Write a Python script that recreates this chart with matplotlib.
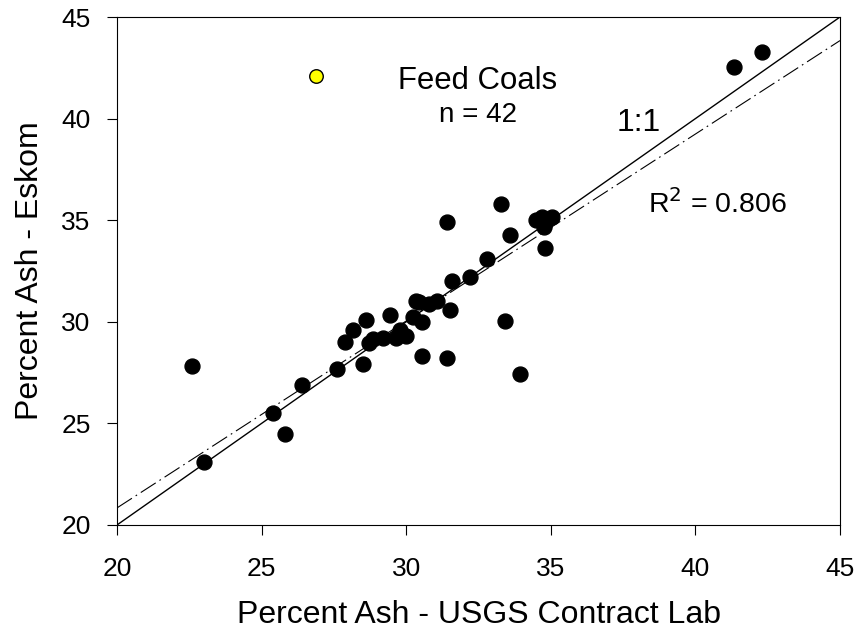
import numpy as np
import matplotlib.pyplot as plt

plt.rcParams['font.family'] = ['Liberation Sans', 'DejaVu Sans']

# usgs contract lab vs eskom percent ash
usgs = [22.6, 23.0, 25.4, 25.8, 26.4, 27.6, 27.9, 28.15, 28.5, 28.6,
        28.7, 28.85, 29.2, 29.45, 29.65, 29.8, 30.0, 30.25, 30.35, 30.45,
        30.55, 30.8, 31.05, 31.5, 30.55, 31.4, 31.6, 32.2, 32.8, 33.6,
        31.4, 33.27, 33.4, 33.95, 34.8, 34.5, 34.7, 34.8, 35.05, 34.75,
        41.35, 42.3]
eskom = [27.8, 23.1, 25.5, 24.5, 26.9, 27.7, 29.0, 29.6, 27.9, 30.1,
         28.95, 29.15, 29.2, 30.35, 29.2, 29.6, 29.3, 30.25, 31.0, 30.95,
         30.0, 30.9, 31.0, 30.6, 28.3, 28.2, 32.0, 32.2, 33.1, 34.25,
         34.9, 35.8, 30.05, 27.45, 33.65, 35.0, 35.15, 34.85, 35.15, 34.65,
         42.55, 43.3]

# regression line
slope = 0.92
intercept = 2.44

fig = plt.figure(figsize=(8.59, 6.3), dpi=100)
ax = fig.add_axes([0.1362, 0.1667, 0.8417, 0.8063])

xx = np.array([20, 45])
ax.plot(xx, xx, color='black', lw=1.0, zorder=2)
ax.plot(xx, slope * xx + intercept, color='black', lw=0.8,
        dashes=(16, 4, 1.5, 4), zorder=2)
ax.scatter(usgs, eskom, s=115, color='black', zorder=3)

ax.scatter([26.88], [42.1], s=95, color='yellow', edgecolor='black',
           linewidth=1, zorder=3)
ax.text(32.47, 41.46, 'Feed Coals', fontsize=22.4, ha='center', va='baseline')
ax.text(32.47, 39.83, 'n = 42', fontsize=20, ha='center', va='baseline')
ax.text(38.05, 39.39, '1:1', fontsize=23, ha='center', va='baseline')
ax.text(40.77, 35.35, r'R$^2$ = 0.806', fontsize=20.5, ha='center', va='baseline')

ax.set_xlim(20, 45)
ax.set_ylim(20, 45)
ax.set_xticks([20, 25, 30, 35, 40, 45])
ax.set_yticks([20, 25, 30, 35, 40, 45])
ax.tick_params(labelsize=19, length=7, direction='out', top=False, right=False)
ax.tick_params(axis='x', pad=16)
ax.tick_params(axis='y', pad=12)
ax.set_xlabel('Percent Ash - USGS Contract Lab', fontsize=23, labelpad=14)
ax.set_ylabel('Percent Ash - Eskom', fontsize=23, labelpad=12)

fig.savefig('out.png', dpi=100)
